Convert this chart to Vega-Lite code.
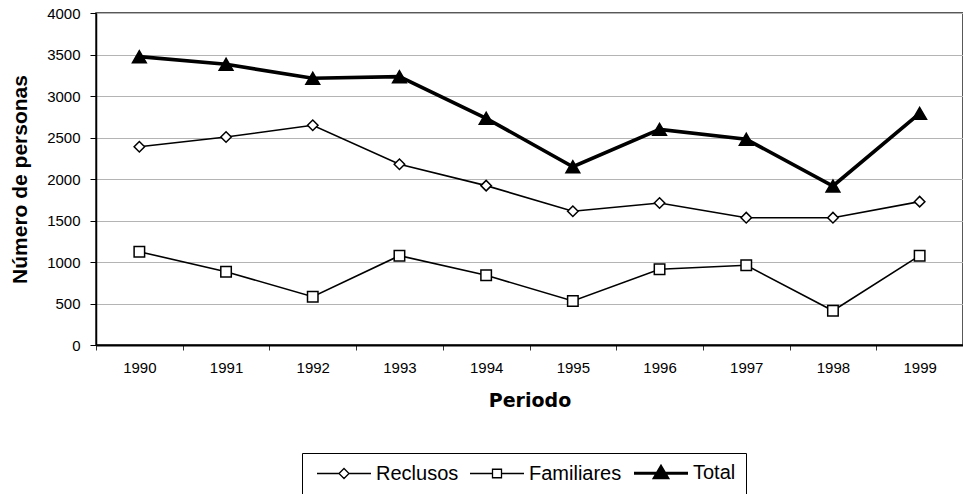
{
  "$schema": "https://vega.github.io/schema/vega-lite/v6.json",
  "autosize": {"type": "none"},
  "width": 867,
  "height": 332,
  "padding": {"left": 96, "top": 13, "right": 0, "bottom": 149},
  "background": "white",
  "data": {
    "values": [
      {"anio": "1990", "serie": "Reclusos", "valor": 2389},
      {"anio": "1991", "serie": "Reclusos", "valor": 2506},
      {"anio": "1992", "serie": "Reclusos", "valor": 2647},
      {"anio": "1993", "serie": "Reclusos", "valor": 2177},
      {"anio": "1994", "serie": "Reclusos", "valor": 1920},
      {"anio": "1995", "serie": "Reclusos", "valor": 1611},
      {"anio": "1996", "serie": "Reclusos", "valor": 1711},
      {"anio": "1997", "serie": "Reclusos", "valor": 1534},
      {"anio": "1998", "serie": "Reclusos", "valor": 1534},
      {"anio": "1999", "serie": "Reclusos", "valor": 1727},
      {"anio": "1990", "serie": "Familiares", "valor": 1124},
      {"anio": "1991", "serie": "Familiares", "valor": 883},
      {"anio": "1992", "serie": "Familiares", "valor": 582},
      {"anio": "1993", "serie": "Familiares", "valor": 1076},
      {"anio": "1994", "serie": "Familiares", "valor": 840},
      {"anio": "1995", "serie": "Familiares", "valor": 530},
      {"anio": "1996", "serie": "Familiares", "valor": 912},
      {"anio": "1997", "serie": "Familiares", "valor": 960},
      {"anio": "1998", "serie": "Familiares", "valor": 413},
      {"anio": "1999", "serie": "Familiares", "valor": 1076},
      {"anio": "1990", "serie": "Total", "valor": 3474},
      {"anio": "1991", "serie": "Total", "valor": 3382},
      {"anio": "1992", "serie": "Total", "valor": 3213},
      {"anio": "1993", "serie": "Total", "valor": 3233},
      {"anio": "1994", "serie": "Total", "valor": 2731},
      {"anio": "1995", "serie": "Total", "valor": 2148},
      {"anio": "1996", "serie": "Total", "valor": 2598},
      {"anio": "1997", "serie": "Total", "valor": 2478},
      {"anio": "1998", "serie": "Total", "valor": 1916},
      {"anio": "1999", "serie": "Total", "valor": 2791}
    ]
  },
  "encoding": {
    "x": {
      "field": "anio",
      "type": "ordinal",
      "bandPosition": 0.5,
      "scale": {"type": "band", "paddingInner": 0, "paddingOuter": 0},
      "axis": {
        "title": "Periodo",
        "labelAngle": 0,
        "tickBand": "extent",
        "grid": false,
        "domainColor": "black",
        "domainWidth": 2,
        "tickColor": "#333",
        "tickSize": 5,
        "labelPadding": 10,
        "labelFont": "Liberation Sans",
        "labelFontSize": 15,
        "labelColor": "black",
        "titleFont": "DejaVu Sans",
        "titleFontWeight": "bold",
        "titleFontSize": 19,
        "titleColor": "black",
        "titlePadding": 16
      }
    },
    "y": {
      "field": "valor",
      "type": "quantitative",
      "scale": {"domain": [0, 4000], "nice": false},
      "axis": {
        "title": "Número de personas",
        "format": "d",
        "values": [0, 500, 1000, 1500, 2000, 2500, 3000, 3500, 4000],
        "grid": true,
        "gridColor": "#b4b4b4",
        "gridWidth": 1,
        "domainColor": "black",
        "domainWidth": 1.5,
        "tickColor": "black",
        "tickSize": 6,
        "labelPadding": 10,
        "labelFont": "Liberation Sans",
        "labelFontSize": 15,
        "labelColor": "black",
        "titleFont": "Liberation Sans",
        "titleFontWeight": "bold",
        "titleFontSize": 21,
        "titleColor": "black",
        "titlePadding": 16
      }
    }
  },
  "layer": [
    {
      "mark": {"type": "line"},
      "encoding": {
        "color": {
          "field": "serie",
          "type": "nominal",
          "scale": {"domain": ["Reclusos", "Familiares", "Total"], "range": ["black", "black", "black"]},
          "legend": {
            "title": null,
            "orient": "none",
            "legendX": 206,
            "legendY": 440,
            "direction": "horizontal",
            "strokeColor": "black",
            "padding": 10,
            "symbolSize": 100,
            "labelOffset": 44,
            "columnPadding": 6,
            "labelFont": "Liberation Sans",
            "labelFontSize": 20,
            "labelColor": "black",
            "encode": {
              "symbols": {
                "update": {
                  "shape": {"signal": "datum.value === 'Reclusos' ? 'M-1,0L3.4,0M5.4,0L9.8,0M3.4,0L4.4,-1L5.4,0L4.4,1Z' : datum.value === 'Familiares' ? 'M-1,0L3.5,0M5.3,0L9.8,0M3.5,-0.85L5.3,-0.85L5.3,0.85L3.5,0.85Z' : 'M-1,0L9.8,0M4.4,-1.3L5.7,0.9L3.1,0.9Z'"},
                  "fill": {"signal": "datum.value === 'Total' ? 'black' : 'white'"},
                  "stroke": {"value": "black"},
                  "strokeWidth": {"signal": "datum.value === 'Total' ? 3 : 1.3"}
                }
              }
            }
          }
        },
        "strokeWidth": {
          "condition": {"test": "datum.serie === 'Total'", "value": 3.6},
          "value": 1.6
        }
      }
    },
    {
      "mark": {"type": "point", "filled": true, "stroke": "black", "strokeWidth": 1.5, "opacity": 1},
      "encoding": {
        "detail": {"field": "serie", "type": "nominal"},
        "shape": {
          "condition": [
            {"test": "datum.serie === 'Reclusos'", "value": "diamond"},
            {"test": "datum.serie === 'Familiares'", "value": "square"}
          ],
          "value": "triangle-up"
        },
        "fill": {
          "condition": {"test": "datum.serie === 'Total'", "value": "black"},
          "value": "white"
        },
        "size": {
          "condition": {"test": "datum.serie === 'Total'", "value": 190},
          "value": 110
        }
      }
    }
  ],
  "config": {
    "view": {"stroke": "#222", "strokeWidth": 1.5}
  }
}
